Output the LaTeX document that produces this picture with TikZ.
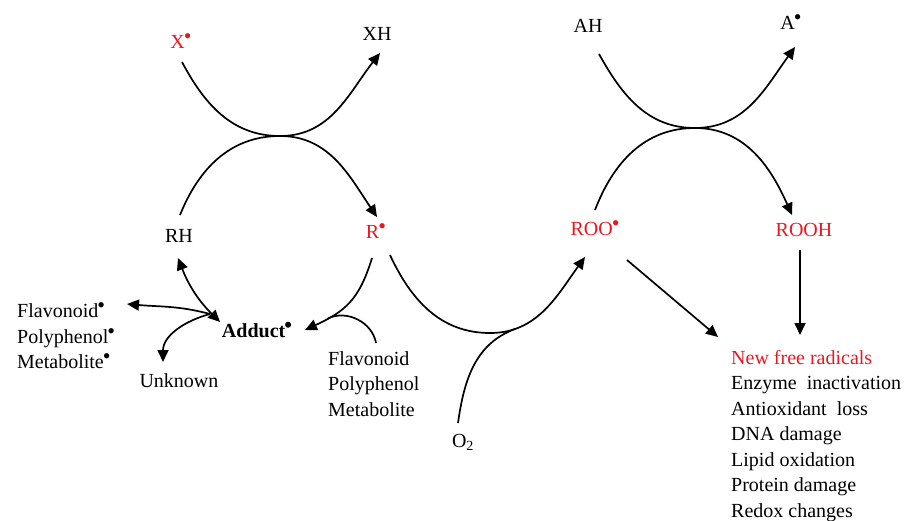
\documentclass[tikz,border=0pt]{standalone}
\usepackage{fontspec}
\setmainfont{Liberation Serif}
\usetikzlibrary{arrows.meta}
\definecolor{radred}{RGB}{230,25,35}
% radical dot: raised bullet
\newcommand{\rad}{\kern-1pt\raisebox{5pt}{\fontsize{22}{22}\selectfont\textbullet}}
\begin{document}
\begin{tikzpicture}[x=1pt,y=1pt,
  lbl/.style={inner sep=2pt, font=\fontsize{20}{25.5}\selectfont},
  redlbl/.style={lbl, text=radred},
  listbox/.style={lbl, align=left, anchor=west, inner sep=0pt},
  link/.style={line width=1.7pt},
  arr/.style={link, -{Triangle[length=12pt,width=11pt]}},
  dblarr/.style={link, {Triangle[length=12pt,width=11pt]}-{Triangle[length=12pt,width=11pt]}},
]
\useasboundingbox (0,0) rectangle (909,-520);

% species
\node[redlbl] (X)    at (181,-41)  {X\rad};
\node[lbl]    (XH)   at (377,-34)  {XH};
\node[lbl]    (RH)   at (179,-236) {RH};
\node[redlbl] (R)    at (376,-231) {R\rad};
\node[lbl]    (AH)   at (588,-26)  {AH};
\node[lbl]    (A)    at (791,-22)  {A\rad};
\node[redlbl] (ROO)  at (595,-228) {ROO\rad};
\node[redlbl] (ROOH) at (804,-230) {ROOH};
\node[lbl, font=\fontsize{20}{25.5}\selectfont\bfseries] (ad) at (257,-330) {Adduct\rad};
\node[lbl]    (unk)  at (179,-381) {Unknown};
\node[lbl]    (O2)   at (463,-442) {O\textsubscript{2}};
\node[listbox] (lf) at (17,-336)  {Flavonoid\rad\\Polyphenol\rad\\Metabolite\rad};
\node[listbox] (rf) at (328,-384) {Flavonoid\\Polyphenol\\Metabolite};
\node[listbox] (fx) at (731,-436) {\textcolor{radred}{New free radicals}\\Enzyme\ \ inactivation\\Antioxidant\ \ loss\\DNA damage\\Lipid oxidation\\Protein damage\\Redox changes};

% points where the paired arcs touch
\coordinate (k1) at (280,-136);
\coordinate (k2) at (695,-128);
\coordinate (kc) at (490,-333);

% first exchange: X. + RH -> XH + R.
\draw[arr] ([shift={(1,-21)}]X.center) to[out=-62, in=180] (k1)
  to[out=0, in=-128] ([shift={(3,-19)}]XH.center);
\draw[arr] ([shift={(1,21)}]RH.center) to[out=68, in=180] (k1)
  to[out=0, in=124] ([shift={(1,14)}]R.center);

% second exchange: ROO. + AH -> ROOH + A.
\draw[arr] ([shift={(11,-28)}]AH.center) to[out=-61, in=180] (k2)
  to[out=0, in=-126] ([shift={(4,-25)}]A.center);
\draw[arr] ([shift={(0,18)}]ROO.center) to[out=69, in=180] (k2)
  to[out=0, in=114] ([shift={(-12,15)}]ROOH.center);

% R. + O2 -> ROO.
\draw[arr] ([shift={(14,-24)}]R.center) to[out=-65, in=180] (kc)
  to[out=0, in=-126] coordinate[pos=0.2] (mO) ([shift={(-10,-29)}]ROO.center);
\draw[link] ([shift={(-5,19)}]O2.center) to[out=82, in=200] (mO);

% R. + flavonoid -> adduct
\draw[arr] ([shift={(-4,-27)}]R.center) to[out=-107, in=25, looseness=1.15]
  coordinate[pos=0.78] (mF) ([shift={(48,0)}]ad.center);
\draw[link] ([shift={(48,41)}]rf.west) to[out=100, in=25] (mF);

% adduct fates
\coordinate (J) at ([shift={(-47,16)}]ad.center);
\draw[dblarr] ([shift={(-37,8)}]ad.center) to[bend left=12] ([shift={(-1,-22)}]RH.center);
\draw[arr] (J) to[out=165, in=-5] ([shift={(110,32)}]lf.west);
\draw[arr] (J) to[out=195, in=90] ([shift={(-16,19)}]unk.center);

% consequences
\draw[arr] ([shift={(32,-32)}]ROO.center) -- ([shift={(-13,99)}]fx.west);
\draw[arr] ([shift={(-4,-20)}]ROOH.center) -- ([shift={(69,101)}]fx.west);
\end{tikzpicture}
\end{document}
